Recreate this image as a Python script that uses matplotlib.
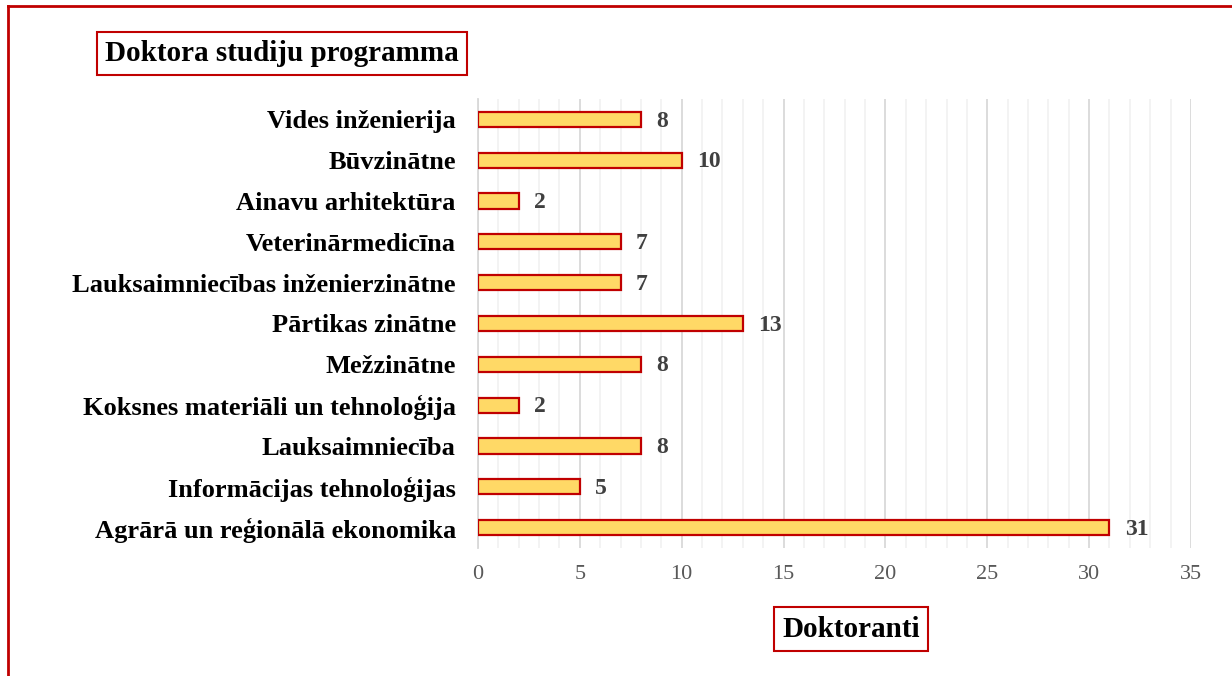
import matplotlib.pyplot as plt
from matplotlib.ticker import MultipleLocator
from matplotlib.lines import Line2D

# data, top to bottom as in the chart
programs = ['Vides inženierija', 'Būvzinātne', 'Ainavu arhitektūra',
            'Veterinārmedicīna', 'Lauksaimniecības inženierzinātne',
            'Pārtikas zinātne', 'Mežzinātne',
            'Koksnes materiāli un tehnoloģija', 'Lauksaimniecība',
            'Informācijas tehnoloģijas', 'Agrārā un reģionālā ekonomika']
students = [8, 10, 2, 7, 7, 13, 8, 2, 8, 5, 31]
xticks = [0, 5, 10, 15, 20, 25, 30, 35]

plt.rcParams['font.family'] = ['Liberation Serif', 'DejaVu Serif']

fig = plt.figure(figsize=(12.32, 6.76), dpi=100)
ax = fig.add_axes([0.388, 0.1893, 0.5787, 0.6643])

pos = list(range(len(programs)))[::-1]
bars = ax.barh(pos, students, height=0.37, color='#FFD966',
               edgecolor='#C00000', linewidth=1.6, zorder=3)
for b, v in zip(bars, students):
    ax.text(b.get_width() + 0.75, b.get_y() + b.get_height() / 2 - 0.04, str(v),
            va='center', ha='left', fontsize=17, fontweight='bold',
            color='#404040')

ax.set_xlim(0, 35)
ax.set_ylim(-0.5, len(programs) - 0.5)
ax.set_xticks(xticks)
ax.xaxis.set_minor_locator(MultipleLocator(1))
ax.grid(axis='x', which='major', color='#D9D9D9', linewidth=1.3, zorder=0)
ax.grid(axis='x', which='minor', color='#F2F2F2', linewidth=1.3, zorder=0)
ax.set_yticks(pos)
ax.set_yticklabels(programs, fontsize=19, fontweight='bold')
ax.tick_params(axis='y', length=0, pad=16)
ax.tick_params(axis='x', which='both', length=0, pad=12,
               labelsize=16, labelcolor='#595959')
for s in ['top', 'right', 'bottom']:
    ax.spines[s].set_visible(False)
ax.spines['left'].set_color('#D9D9D9')
ax.spines['left'].set_linewidth(1.3)

fig.text(0.0855, 0.921, 'Doktora studiju programma', fontsize=21,
         fontweight='bold', va='center', ha='left',
         bbox=dict(boxstyle='square,pad=0.28', fc='white', ec='#C00000', lw=1.5))
fig.text(0.6907, 0.0695, 'Doktoranti', fontsize=21, fontweight='bold',
         va='center', ha='center',
         bbox=dict(boxstyle='square,pad=0.28', fc='white', ec='#C00000', lw=1.5))

# outer red frame (only left and top visible)
fig.add_artist(Line2D([0.0065, 0.0065], [0, 0.991], color='#C00000', lw=2,
                      transform=fig.transFigure))
fig.add_artist(Line2D([0.0065, 1], [0.991, 0.991], color='#C00000', lw=2,
                      transform=fig.transFigure))

fig.savefig('out.png')
